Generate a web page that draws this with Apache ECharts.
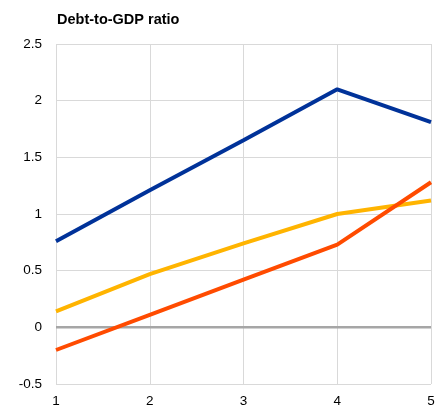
<!DOCTYPE html>
<html><head><meta charset="utf-8">
<script src="https://cdn.jsdelivr.net/npm/echarts@6/dist/echarts.min.js"></script>
<style>html,body{margin:0;padding:0;background:#fff}#c{width:442px;height:410px}</style>
</head><body><div id="c"></div>
<script>
const categories = ['1','2','3','4','5'];
const blueSeries = [0.76, 1.21, 1.65, 2.10, 1.81];
const yellowSeries = [0.14, 0.47, 0.74, 1.00, 1.12];
const orangeSeries = [-0.20, 0.11, 0.42, 0.73, 1.28];
const titleText = 'Debt-to-GDP ratio';

const chart = echarts.init(document.getElementById('c'), null, {renderer:'canvas'});
const mk = (data, color) => ({type:'line', data, symbol:'none', lineStyle:{width:4, color}, itemStyle:{color}, z:3});
chart.setOption({
  animation:false,
  title:{text:titleText, left:52, top:7, textStyle:{fontFamily:'Liberation Sans, Arial', fontSize:14.5, fontWeight:'bold', color:'#000'}},
  grid:{left:56, right:11, top:44, bottom:26, containLabel:false},
  xAxis:{type:'category', data:categories, boundaryGap:false,
    axisLine:{show:false}, axisTick:{show:false},
    axisLabel:{fontFamily:'Liberation Sans, Arial', fontSize:13.5, color:'#000', margin:10},
    splitLine:{show:true, lineStyle:{color:'#d9d9d9', width:1}}},
  yAxis:{type:'value', min:-0.5, max:2.5, interval:0.5,
    axisLine:{show:false}, axisTick:{show:false},
    axisLabel:{fontFamily:'Liberation Sans, Arial', fontSize:13.5, color:'#000', margin:14},
    splitLine:{show:true, lineStyle:{color:'#d9d9d9', width:1}}},
  series:[
    {type:'line', data:categories.map(()=>0), symbol:'none', lineStyle:{width:2.5, color:'#a6a6a6'}, z:2, silent:true},
    mk(blueSeries,'#003299'),
    mk(yellowSeries,'#FFB400'),
    mk(orangeSeries,'#FF4B00')
  ]
});
</script></body></html>
